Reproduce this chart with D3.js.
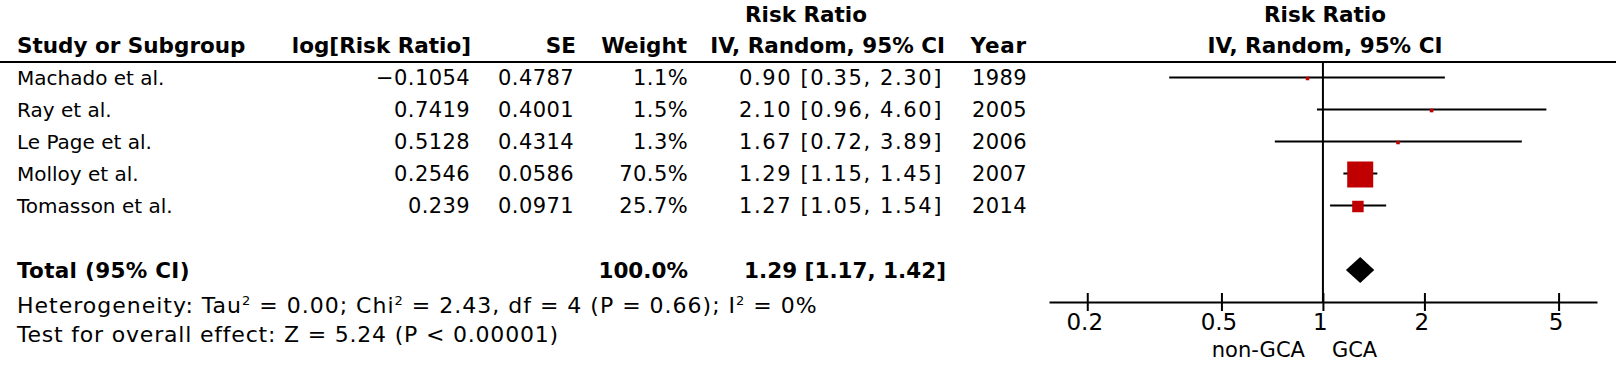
<!DOCTYPE html>
<html>
<head>
<meta charset="utf-8">
<script src="https://cdn.jsdelivr.net/npm/d3@7"></script>
<style>
  body { margin: 0; background: #fff; }
  text { font-family: "DejaVu Sans", sans-serif; fill: #000; }
</style>
</head>
<body>
<div id="chart"></div>
<script>
// forest plot data
const studies = ["Machado et al.", "Ray et al.", "Le Page et al.", "Molloy et al.", "Tomasson et al."];
const logRR = [-0.1054, 0.7419, 0.5128, 0.2546, 0.239];
const se = [0.4787, 0.4001, 0.4314, 0.0586, 0.0971];
const weights = [1.1, 1.5, 1.3, 70.5, 25.7];
const rr = [0.90, 2.10, 1.67, 1.29, 1.27];
const lower = [0.35, 0.96, 0.72, 1.15, 1.05];
const upper = [2.30, 4.60, 3.89, 1.45, 1.54];
const years = [1989, 2005, 2006, 2007, 2014];

const totalRR = 1.29;
const totalLower = 1.17;
const totalUpper = 1.42;
const totalWeight = 100.0;

const tickValues = [0.2, 0.5, 1, 2, 5];
const favours = ["non-GCA", "GCA"];

const W = 1616, H = 376;
const RED = "#c00000";

const svg = d3.select("#chart").append("svg")
  .attr("width", W)
  .attr("height", H);

svg.append("rect")
  .attr("width", W)
  .attr("height", H)
  .attr("fill", "#fff");

// scales
const x = d3.scaleLog().domain([0.154, 6.5]).range([1049, 1597]);
const y = d3.scalePoint().domain(studies).range([77.5, 205.5]);
const boxSize = d3.scaleLinear().domain([1.1, 70.5]).range([3.5, 26]);

const totalY = 270;
const axisY = 302;

function label(g, px, py, str, opts) {
  opts = opts || {};
  return g.append("text")
    .attr("x", px)
    .attr("y", py)
    .attr("text-anchor", opts.anchor || "start")
    .attr("font-weight", opts.bold ? "bold" : "normal")
    .attr("font-size", opts.size || 20)
    .style("letter-spacing", opts.spacing || 0)
    .text(str);
}

const fmt2 = d3.format(".2f");
const minus = s => s.replace("-", "\u2212");
const ciText = (m, l, u) => fmt2(m) + " [" + fmt2(l) + ", " + fmt2(u) + "]";

// column headers
const head = svg.append("g");
const HB = 21.5;
label(head, 806, 22, "Risk Ratio", {anchor: "middle", bold: true, size: HB});
label(head, 1325, 22, "Risk Ratio", {anchor: "middle", bold: true, size: HB});
label(head, 17, 53, "Study or Subgroup", {bold: true, size: HB});
label(head, 471, 53, "log[Risk Ratio]", {anchor: "end", bold: true, size: HB});
label(head, 576, 53, "SE", {anchor: "end", bold: true, size: HB});
label(head, 687, 53, "Weight", {anchor: "end", bold: true, size: HB});
label(head, 945, 53, "IV, Random, 95% CI", {anchor: "end", bold: true, size: HB});
label(head, 1027, 53, "Year", {anchor: "end", bold: true, size: HB, spacing: "0.8px"});
label(head, 1325, 53, "IV, Random, 95% CI", {anchor: "middle", bold: true, size: HB});

svg.append("line")
  .attr("x1", 0).attr("x2", W)
  .attr("y1", 62).attr("y2", 62)
  .attr("stroke", "#000").attr("stroke-width", 2);

// study rows
const NS = 21;
const rows = svg.append("g").selectAll("g")
  .data(studies)
  .join("g")
  .attr("transform", d => `translate(0,${y(d) + 7.5})`);

rows.each(function(d, i) {
  const g = d3.select(this);
  label(g, 17, 0, d, {size: 20});
  label(g, 470, 0, minus(String(logRR[i])), {anchor: "end", size: NS, spacing: "0.4px"});
  label(g, 574, 0, String(se[i]), {anchor: "end", size: NS, spacing: "0.4px"});
  label(g, 688, 0, d3.format(".1f")(weights[i]) + "%", {anchor: "end", size: NS, spacing: "0.4px"});
  label(g, 943, 0, ciText(rr[i], lower[i], upper[i]), {anchor: "end", size: NS, spacing: "1.6px"});
  label(g, 1027, 0, years[i], {anchor: "end", size: NS, spacing: "0.4px"});
});

// total row and footnotes
const foot = svg.append("g");
label(foot, 17, totalY + 7.5, "Total (95% CI)", {bold: true, size: HB, spacing: "0.3px"});
label(foot, 688, totalY + 7.5, d3.format(".1f")(totalWeight) + "%", {anchor: "end", bold: true, size: HB});
label(foot, 946, totalY + 7.5, ciText(totalRR, totalLower, totalUpper), {anchor: "end", bold: true, size: HB});

// heterogeneity line with superscript 2s
const het = label(foot, 17, 313, "", {size: 22, spacing: "1px"});
const hetParts = ["Heterogeneity: Tau", "2", " = 0.00; Chi", "2", " = 2.43, df = 4 (P = 0.66); I", "2", " = 0%"];
hetParts.forEach((p, i) => {
  const sup = i % 2 === 1;
  het.append("tspan")
    .attr("dy", i === 0 ? 0 : (sup ? -8 : 8))
    .attr("font-size", sup ? 13 : 22)
    .text(p);
});
label(foot, 17, 342, "Test for overall effect: Z = 5.24 (P < 0.00001)", {size: 22, spacing: "0.8px"});

// forest plot
const plot = svg.append("g");

plot.append("line")
  .attr("x1", x(1)).attr("x2", x(1))
  .attr("y1", 62).attr("y2", axisY)
  .attr("stroke", "#000").attr("stroke-width", 2);

plot.selectAll(".ci")
  .data(studies)
  .join("line")
  .attr("class", "ci")
  .attr("x1", (d, i) => x(lower[i]))
  .attr("x2", (d, i) => x(upper[i]))
  .attr("y1", d => y(d))
  .attr("y2", d => y(d))
  .attr("stroke", "#000")
  .attr("stroke-width", 2);

plot.selectAll(".box")
  .data(studies)
  .join("rect")
  .attr("class", "box")
  .attr("x", (d, i) => x(rr[i]) - boxSize(weights[i]) / 2)
  .attr("y", (d, i) => y(d) + 1 - boxSize(weights[i]) / 2)
  .attr("width", (d, i) => boxSize(weights[i]))
  .attr("height", (d, i) => boxSize(weights[i]))
  .attr("fill", RED);

// pooled estimate diamond
plot.append("path")
  .attr("d", d3.line()([
    [x(totalLower), totalY],
    [x(totalRR), totalY - 13],
    [x(totalUpper), totalY],
    [x(totalRR), totalY + 13]
  ]) + "Z")
  .attr("fill", "#000");

// x axis
const axis = plot.append("g")
  .attr("transform", `translate(0,${axisY})`)
  .call(d3.axisBottom(x).tickValues(tickValues).tickFormat(d => d).tickSizeOuter(0));

axis.select(".domain").attr("stroke-width", 2);
axis.selectAll(".tick line").attr("y1", -9).attr("y2", 9).attr("stroke-width", 2);
axis.selectAll(".tick text")
  .attr("y", 12)
  .attr("dx", -3)
  .attr("font-size", 23)
  .attr("font-family", "DejaVu Sans");

label(plot, x(1) - 18, 357, favours[0], {anchor: "end", size: 21});
label(plot, x(1) + 9, 357, favours[1], {size: 21});
</script>
</body>
</html>
